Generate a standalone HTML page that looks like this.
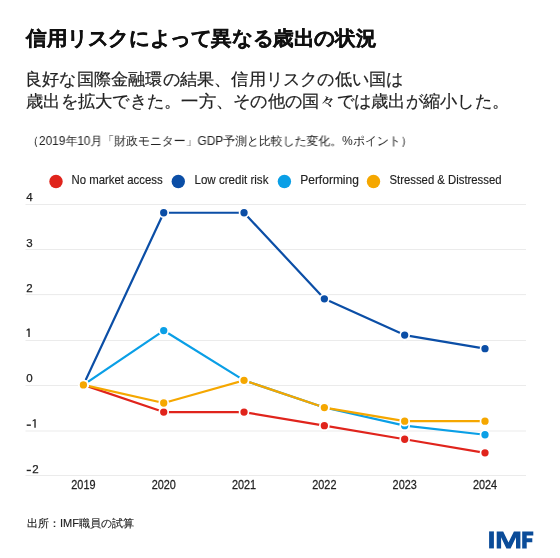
<!DOCTYPE html>
<html lang="ja">
<head>
<meta charset="utf-8">
<style>
html,body{margin:0;padding:0;background:#fff;}
body{width:560px;height:558px;position:relative;overflow:hidden;-webkit-font-smoothing:antialiased;font-family:"Liberation Sans",sans-serif;color:#1a1a1a;}
.t{position:absolute;white-space:nowrap;line-height:1;will-change:transform;}
#title{left:26px;top:27.5px;font-size:20px;font-weight:bold;color:#111;-webkit-text-stroke:0.3px #111;transform:scaleX(1.03);transform-origin:0 0;}
#sub1{left:25.3px;top:71.3px;font-size:17px;color:#222;-webkit-text-stroke:0.2px #222;transform:scaleX(1.012);transform-origin:0 0;}
#sub2{left:26px;top:93.3px;font-size:17px;color:#222;-webkit-text-stroke:0.2px #222;transform:scaleX(1.015);transform-origin:0 0;}
#note{left:27px;top:134.5px;font-size:12px;color:#222;transform:scaleX(0.991);transform-origin:0 0;}
#src{left:27px;top:518px;font-size:11px;color:#222;-webkit-text-stroke:0.15px #222;}
svg{position:absolute;left:0;top:0;will-change:transform;}
</style>
</head>
<body>
<div class="t" id="title">信用リスクによって異なる歳出の状況</div>
<div class="t" id="sub1">良好な国際金融環の結果、信用リスクの低い国は</div>
<div class="t" id="sub2">歳出を拡大できた。一方、その他の国々では歳出が縮小した。</div>
<div class="t" id="note">（2019年10月「財政モニター」GDP予測と比較した変化。%ポイント）</div>
<div class="t" id="src">出所：IMF職員の試算</div>
<svg width="560" height="558" viewBox="0 0 560 558" font-family="Liberation Sans, sans-serif">
<g font-size="12" fill="#222">
<circle cx="56" cy="181.5" r="6.7" fill="#e0241c"/><text stroke="#222" stroke-width="0.15" transform="translate(71.5,184.3) scale(0.95,1)">No market access</text>
<circle cx="178.3" cy="181.5" r="6.7" fill="#0b4ea6"/><text stroke="#222" stroke-width="0.15" transform="translate(194.5,184.3) scale(0.965,1)">Low credit risk</text>
<circle cx="284.4" cy="181.5" r="6.7" fill="#0a9fe6"/><text stroke="#222" stroke-width="0.15" transform="translate(300.2,184.3) scale(1.0,1)">Performing</text>
<circle cx="373.5" cy="181.5" r="6.7" fill="#f5a700"/><text stroke="#222" stroke-width="0.15" transform="translate(389.5,184.3) scale(0.945,1)">Stressed &amp; Distressed</text>
</g>
<g stroke="#ebebeb" stroke-width="1">
<line x1="25.5" x2="526" y1="204.5" y2="204.5"/>
<line x1="25.5" x2="526" y1="249.5" y2="249.5"/>
<line x1="25.5" x2="526" y1="294.6" y2="294.6"/>
<line x1="25.5" x2="526" y1="340.5" y2="340.5"/>
<line x1="25.5" x2="526" y1="385.5" y2="385.5"/>
<line x1="25.5" x2="526" y1="431" y2="431"/>
<line x1="25.5" x2="526" y1="475.5" y2="475.5"/>
</g>
<g font-size="11.5" fill="#222" stroke="#222" stroke-width="0.25">
<text x="26.2" y="201.2">4</text>
<text x="26.2" y="246.5">3</text>
<text x="26.2" y="291.8">2</text>
<path stroke="none" d="M28.35 337.1V328.6H29.7V337.1ZM28.35 328.6L26.6 329.8V330.9L28.35 329.9Z"/>
<text x="26.2" y="382.4">0</text>
<rect stroke="none" x="26.7" y="424.45" width="4.2" height="1.4"/>
<path stroke="none" d="M34.35 427.7V419.2H35.7V427.7ZM34.35 419.2L32.6 420.4V421.5L34.35 420.5Z"/>
<rect stroke="none" x="26.7" y="469.75" width="4.2" height="1.4"/>
<text x="32.2" y="473">2</text>
</g>
<g font-size="12.5" fill="#222" stroke="#222" stroke-width="0.25" text-anchor="middle">
<text transform="translate(83.4,488.7) scale(0.87,1)">2019</text>
<text transform="translate(163.72,488.7) scale(0.87,1)">2020</text>
<text transform="translate(244.04,488.7) scale(0.87,1)">2021</text>
<text transform="translate(324.36,488.7) scale(0.87,1)">2022</text>
<text transform="translate(404.68,488.7) scale(0.87,1)">2023</text>
<text transform="translate(485,488.7) scale(0.87,1)">2024</text>
</g>
<g fill="none" stroke-width="2.2" stroke-linejoin="round">
<polyline stroke="#e0241c" points="83.4,384.9 163.72,412.08 244.04,412.08 324.36,425.67 404.68,439.26 485,452.85"/>
<polyline stroke="#0b4ea6" points="83.4,384.9 163.72,212.76 244.04,212.76 324.36,298.83 404.68,335.07 485,348.66"/>
<polyline stroke="#0a9fe6" points="83.4,384.9 163.72,330.54 244.04,380.37 324.36,407.55 404.68,425.67 485,434.73"/>
<polyline stroke="#f5a700" points="83.4,384.9 163.72,403.02 244.04,380.37 324.36,407.55 404.68,421.14 485,421.14"/>
</g>
<g stroke="#fff" stroke-width="1.7">
<g fill="#e0241c"><circle cx="83.4" cy="384.9" r="4.5"/><circle cx="163.72" cy="412.08" r="4.5"/><circle cx="244.04" cy="412.08" r="4.5"/><circle cx="324.36" cy="425.67" r="4.5"/><circle cx="404.68" cy="439.26" r="4.5"/><circle cx="485" cy="452.85" r="4.5"/></g>
<g fill="#0b4ea6"><circle cx="83.4" cy="384.9" r="4.5"/><circle cx="163.72" cy="212.76" r="4.5"/><circle cx="244.04" cy="212.76" r="4.5"/><circle cx="324.36" cy="298.83" r="4.5"/><circle cx="404.68" cy="335.07" r="4.5"/><circle cx="485" cy="348.66" r="4.5"/></g>
<g fill="#0a9fe6"><circle cx="83.4" cy="384.9" r="4.5"/><circle cx="163.72" cy="330.54" r="4.5"/><circle cx="244.04" cy="380.37" r="4.5"/><circle cx="324.36" cy="407.55" r="4.5"/><circle cx="404.68" cy="425.67" r="4.5"/><circle cx="485" cy="434.73" r="4.5"/></g>
<g fill="#f5a700"><circle cx="83.4" cy="384.9" r="4.5"/><circle cx="163.72" cy="403.02" r="4.5"/><circle cx="244.04" cy="380.37" r="4.5"/><circle cx="324.36" cy="407.55" r="4.5"/><circle cx="404.68" cy="421.14" r="4.5"/><circle cx="485" cy="421.14" r="4.5"/></g>
</g>
<g fill="#0b4c99">
<rect x="489.1" y="531.4" width="4.8" height="17"/>
<path d="M496.7 548.4V531.4H503.2L508.5 542.6L513.9 531.4H520.4V548.4H516V537.2L510.6 548.4H506.4L501.1 537.2V548.4Z"/>
<path d="M522.2 548.4V531.4H533.3V535.5H526.7V538.2H532.3V542.2H526.7V548.4Z"/>
</g>
</svg>
</body>
</html>
